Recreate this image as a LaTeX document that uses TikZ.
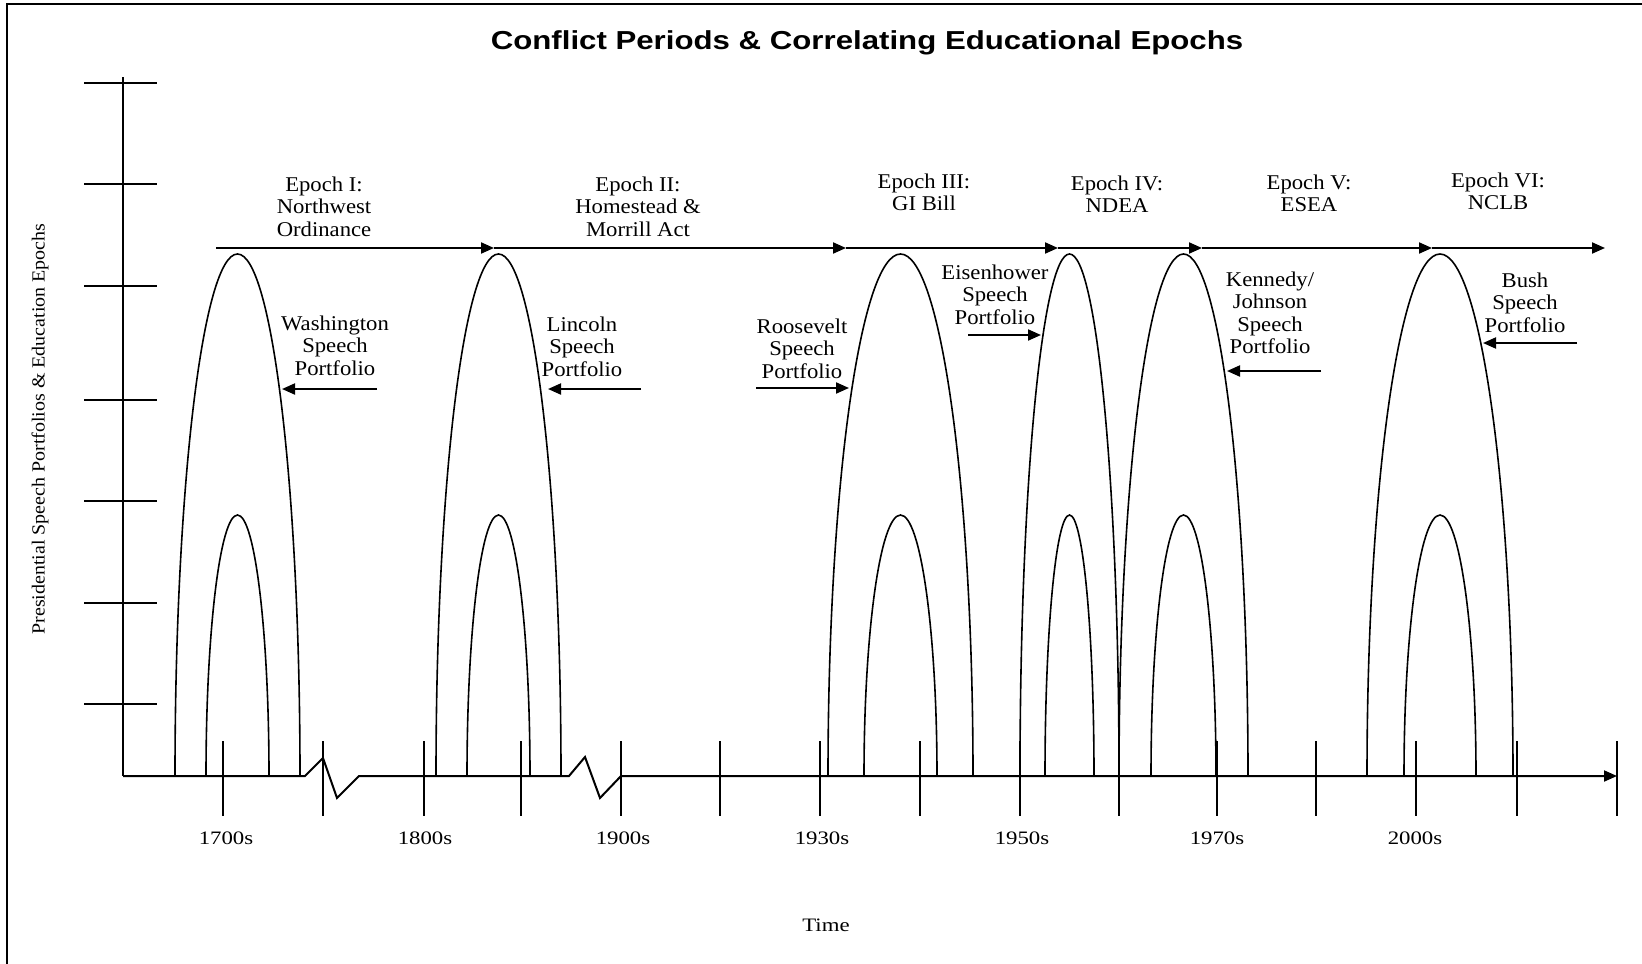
\documentclass[tikz,border=0pt]{standalone}
\usepackage{fontspec}
\setmainfont{Liberation Serif}[FakeStretch=1.08]
\newfontfamily\yearfont{Liberation Serif}[FakeStretch=1.2]
\newfontfamily\titlefont{Liberation Sans}[FakeStretch=1.2]
\usetikzlibrary{arrows.meta}
\newcommand\stk[1]{\begin{tabular}[t]{@{}c@{}}#1\end{tabular}}
\begin{document}
\begin{tikzpicture}[x=1pt,y=-1pt,
  lbl/.style={anchor=base, inner sep=0pt, font=\fontsize{21}{22.5}\selectfont},
  yr/.style={anchor=base, inner sep=0pt, font=\yearfont\fontsize{19}{22}\selectfont},
  axisline/.style={line width=2pt},
  archline/.style={line width=1.6pt},
  tickline/.style={line width=1.8pt},
  ptr/.style={line width=2pt, -{Triangle[length=13pt,width=11pt]}},
  framed/.style={line width=2.4pt}]
\useasboundingbox (0,0) rectangle (1642,964);
\fill[white] (0,0) rectangle (1642,964);
% frame (top and left only)
\draw[framed] (7,964) -- (7,4) -- (1642,4);
% title
\node[anchor=base, inner sep=0pt, font=\titlefont\bfseries\fontsize{26}{30}\selectfont] (title) at (867,49)
  {Conflict Periods \& Correlating Educational Epochs};
% y axis
\coordinate (ytop) at (123,77);
\coordinate (origin) at (123,776);
\draw[axisline] (ytop) -- (origin);
\foreach \y in {83,184,286,400,501,603,704}
  \draw[tickline] (84,\y) -- (157,\y);
\node[rotate=90, inner sep=0pt, font=\fontsize{18.5}{20}\selectfont] (ylab) at (40,429)
  {Presidential Speech Portfolios \& Education Epochs};
% x axis with breaks
\coordinate (xend) at (1617,776);
\draw[axisline, -{Triangle[length=13pt,width=11pt]}] (origin) -- (305,776) -- (323,758) -- (337,798) -- (359,776)
  -- (569,776) -- (585,757) -- (600,798) -- (621,776) -- (xend);
\foreach \x in {223,323,424,521,621,720,820,920,1020,1119,1217,1316,1416,1517,1617}
  \draw[tickline] (\x,741) -- (\x,816);
% year labels
\node[yr] (y1700) at (226,844) {1700s};
\node[yr] (y1800) at (425,844) {1800s};
\node[yr] (y1900) at (623,844) {1900s};
\node[yr] (y1930) at (822,844) {1930s};
\node[yr] (y1950) at (1022,844) {1950s};
\node[yr] (y1970) at (1217,844) {1970s};
\node[yr] (y2000) at (1415,844) {2000s};
\node[yr] (time) at (826,931) {Time};
% arches
\foreach \c/\ow/\iw in {237.5/62.5/31.5, 498.5/62.5/31.5, 900.5/72.5/36.5, 1069.5/49.5/24.5, 1183.5/64.5/32.5, 1440/73/36}{
  \draw[archline] (\c-\ow,776) arc[start angle=180, end angle=0, x radius=\ow pt, y radius=522pt];
  \draw[archline] (\c-\iw,776) arc[start angle=180, end angle=0, x radius=\iw pt, y radius=261pt];
}
% epoch timeline
\coordinate (e0) at (216,248);
\coordinate (e1) at (494,248);
\coordinate (e2) at (846,248);
\coordinate (e3) at (1058,248);
\coordinate (e4) at (1202,248);
\coordinate (e5) at (1432,248);
\coordinate (e6) at (1605,248);
\draw[ptr] (e0) -- (e1);
\draw[ptr] (e1) -- (e2);
\draw[ptr] (e2) -- (e3);
\draw[ptr] (e3) -- (e4);
\draw[ptr] (e4) -- (e5);
\draw[ptr] (e5) -- (e6);
% epoch labels
\node[lbl] (ep1) at (324,191) {\stk{Epoch I:\\Northwest\\Ordinance}};
\node[lbl] (ep2) at (638,191) {\stk{Epoch II:\\Homestead \&\\Morrill Act}};
\node[lbl] (ep3) at (924,188) {\stk{Epoch III:\\GI Bill}};
\node[lbl] (ep4) at (1117,190) {\stk{Epoch IV:\\NDEA}};
\node[lbl] (ep5) at (1309,189) {\stk{Epoch V:\\ESEA}};
\node[lbl] (ep6) at (1498,187) {\stk{Epoch VI:\\NCLB}};
% speech portfolio labels
\node[lbl] (sp1) at (335,330) {\stk{Washington\\Speech\\Portfolio}};
\node[lbl] (sp2) at (582,331) {\stk{Lincoln\\Speech\\Portfolio}};
\node[lbl] (sp3) at (802,333) {\stk{Roosevelt\\Speech\\Portfolio}};
\node[lbl] (sp4) at (995,279) {\stk{Eisenhower\\Speech\\Portfolio}};
\node[lbl] (sp5) at (1270,286) {\stk{Kennedy/\\Johnson\\Speech\\Portfolio}};
\node[lbl] (sp6) at (1525,287) {\stk{Bush\\Speech\\Portfolio}};
% pointer arrows
\coordinate (a1t) at (377,389); \coordinate (a1h) at (282,389);
\coordinate (a2t) at (641,389); \coordinate (a2h) at (548,389);
\coordinate (a3t) at (756,388); \coordinate (a3h) at (849,388);
\coordinate (a4t) at (968,335); \coordinate (a4h) at (1041,335);
\coordinate (a5t) at (1321,371); \coordinate (a5h) at (1227,371);
\coordinate (a6t) at (1577,343); \coordinate (a6h) at (1483,343);
\draw[ptr] (a1t) -- (a1h);
\draw[ptr] (a2t) -- (a2h);
\draw[ptr] (a3t) -- (a3h);
\draw[ptr] (a4t) -- (a4h);
\draw[ptr] (a5t) -- (a5h);
\draw[ptr] (a6t) -- (a6h);
\end{tikzpicture}
\end{document}
